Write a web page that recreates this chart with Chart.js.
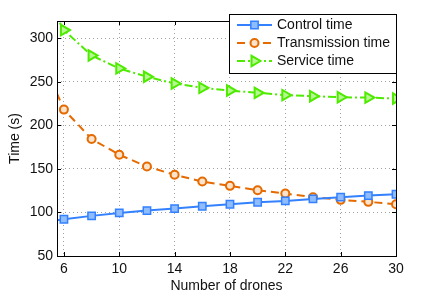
<!DOCTYPE html>
<html>
<head>
<meta charset="utf-8">
<script src="https://cdn.jsdelivr.net/npm/chart.js@4.4.1/dist/chart.umd.min.js"></script>
<style>
  html, body { margin: 0; padding: 0; background: #fff; }
  #wrap { width: 436px; height: 295px; }
</style>
</head>
<body>
<div id="wrap"><canvas id="c" width="436" height="295"></canvas></div>
<script>
// ---- data ----
const drones = [4, 6, 8, 10, 12, 14, 16, 18, 20, 22, 24, 26, 28, 30];
const controlTime = [88, 92.2, 96.1, 99.5, 102.2, 104.5, 107.2, 109.5, 111.8, 113.3, 115.6, 117.6, 119.4, 121];
const transmissionTime = [292, 218.2, 184.5, 166.3, 152.8, 143.3, 135.5, 130.6, 125.6, 121.7, 117.6, 114.5, 112.2, 109.5];
const serviceTime = [366, 309.6, 280.4, 265.5, 255.9, 248.2, 243.2, 240.1, 237.5, 234.8, 233.6, 232.4, 232, 230.9];
const seriesNames = ['Control time', 'Transmission time', 'Service time'];
const xTicks = [6, 10, 14, 18, 22, 26, 30];
const yTicks = [50, 100, 150, 200, 250, 300];
const xTitle = 'Number of drones';
const yTitle = 'Time (s)';

const FONT = "'Liberation Sans', Arial, Helvetica, sans-serif";

function pts(arr) { return drones.map((x, i) => ({ x: x, y: arr[i] })); }

const datasets = [
  {
    label: seriesNames[0], data: pts(controlTime),
    borderColor: '#3381ff', backgroundColor: '#3381ff', borderWidth: 2,
    pointStyle: 'rect', pointRadius: 5.2, pointBorderWidth: 1.5,
    pointBackgroundColor: '#8fbcff', pointBorderColor: '#3381ff', borderDash: []
  },
  {
    label: seriesNames[1], data: pts(transmissionTime),
    borderColor: '#e56a00', backgroundColor: '#e56a00', borderWidth: 2,
    pointStyle: 'circle', pointRadius: 4, pointBorderWidth: 2,
    pointBackgroundColor: '#fbe3cc', pointBorderColor: '#e56a00', borderDash: [8, 5]
  },
  {
    label: seriesNames[2], data: pts(serviceTime),
    borderColor: '#4eea00', backgroundColor: '#4eea00', borderWidth: 2,
    pointStyle: 'triangle', pointRadius: 6, pointRotation: 90, pointBorderWidth: 2,
    pointBackgroundColor: '#b6f794', pointBorderColor: '#4eea00', borderDash: [8, 3, 2, 3]
  }
];

const framePlugin = {
  id: 'frame',
  afterDraw(chart) {
    const ctx = chart.ctx;
    const a = chart.chartArea;
    const xs = chart.scales.x, ys = chart.scales.y;
    ctx.save();
    ctx.strokeStyle = '#000';
    ctx.lineWidth = 1;
    ctx.setLineDash([]);
    ctx.strokeRect(Math.round(a.left) + 0.5, Math.round(a.top) + 0.5,
                   Math.round(a.right - a.left), Math.round(a.bottom - a.top));
    ctx.beginPath();
    xTicks.forEach(v => {
      const px = Math.round(xs.getPixelForValue(v)) + 0.5;
      ctx.moveTo(px, a.bottom); ctx.lineTo(px, a.bottom - 4);
      ctx.moveTo(px, a.top); ctx.lineTo(px, a.top + 4);
    });
    yTicks.forEach(v => {
      const py = Math.round(ys.getPixelForValue(v)) + 0.5;
      ctx.moveTo(a.left, py); ctx.lineTo(a.left + 4, py);
      ctx.moveTo(a.right, py); ctx.lineTo(a.right - 4, py);
    });
    ctx.stroke();

    // legend
    const bx = 229.5, by = 14.5, bw = Math.round(a.right) - 229, bh = 59;
    ctx.fillStyle = '#fff';
    ctx.fillRect(bx, by, bw, bh);
    ctx.strokeStyle = '#000';
    ctx.strokeRect(bx, by, bw, bh);
    const rows = [25, 43, 61];
    ctx.font = '14px ' + FONT;
    ctx.textBaseline = 'middle';
    ctx.textAlign = 'left';
    chart.data.datasets.forEach((ds, i) => {
      const y = rows[i];
      ctx.save();
      ctx.strokeStyle = ds.borderColor;
      ctx.lineWidth = ds.borderWidth;
      ctx.setLineDash(ds.borderDash || []);
      ctx.beginPath();
      ctx.moveTo(237, y); ctx.lineTo(272, y);
      ctx.stroke();
      ctx.setLineDash([]);
      ctx.fillStyle = ds.pointBackgroundColor;
      ctx.strokeStyle = ds.pointBorderColor;
      ctx.lineWidth = ds.pointBorderWidth;
      Chart.helpers.drawPoint(ctx, {
        pointStyle: ds.pointStyle, radius: ds.pointRadius,
        rotation: ds.pointRotation || 0, borderWidth: ds.pointBorderWidth
      }, 254.5, y);
      ctx.restore();
      ctx.fillStyle = '#111';
      ctx.fillText(ds.label, 277, y + 0.5);
    });
    ctx.restore();
  }
};

new Chart(document.getElementById('c'), {
  type: 'line',
  data: { datasets: datasets },
  options: {
    responsive: false,
    animation: false,
    layout: { padding: { left: 0, right: 40, top: 21, bottom: 0 } },
    plugins: { legend: { display: false }, tooltip: { enabled: false } },
    elements: { line: { tension: 0 } },
    scales: {
      x: {
        type: 'linear', min: 5.5, max: 30,
        afterBuildTicks(s) { s.ticks = xTicks.map(v => ({ value: v })); },
        afterFit(s) { s.height = 39; },
        grid: { color: '#a0a0a0', lineWidth: 1, drawTicks: false },
        border: { display: false, dash: [1, 3] },
        ticks: { color: '#111', font: { family: FONT, size: 14 }, padding: 5, maxRotation: 0, autoSkip: false },
        title: { display: true, text: xTitle, color: '#111', font: { family: FONT, size: 14 }, padding: { top: 0, bottom: 0 } }
      },
      y: {
        type: 'linear', min: 50, max: 320,
        afterBuildTicks(s) { s.ticks = yTicks.map(v => ({ value: v })); },
        afterFit(s) { s.width = 57; },
        grid: { color: '#a0a0a0', lineWidth: 1, drawTicks: false },
        border: { display: false, dash: [1, 3] },
        ticks: { color: '#111', font: { family: FONT, size: 14 }, padding: 4, autoSkip: false },
        title: { display: true, text: yTitle, color: '#111', font: { family: FONT, size: 14 }, padding: { top: 7, bottom: 0 } }
      }
    }
  },
  plugins: [framePlugin]
});
</script>
</body>
</html>
